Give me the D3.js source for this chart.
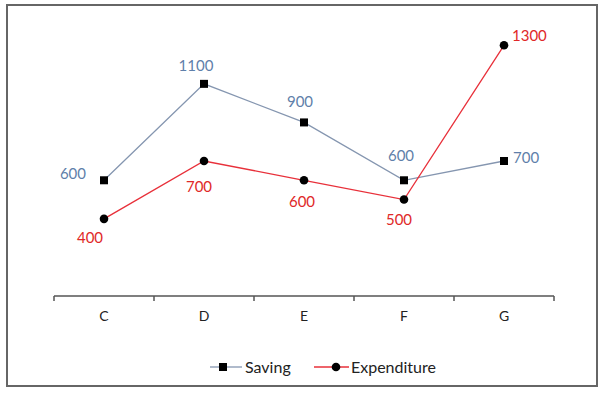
<!DOCTYPE html>
<html><head><meta charset="utf-8">
<script src="https://cdn.jsdelivr.net/npm/d3@7"></script>
<style>body{margin:0;background:#fff}svg{display:block}</style>
</head><body>
<script>
const categories = ["C","D","E","F","G"];
const saving = [600,1100,900,600,700];
const expenditure = [400,700,600,500,1300];
const seriesNames = ["Saving","Expenditure"];

const W=603,H=393;
const svg=d3.select("body").append("svg").attr("width",W).attr("height",H);
const font="Lato, 'Open Sans', sans-serif";

svg.append("rect").attr("x",7).attr("y",5).attr("width",590).attr("height",381)
  .attr("fill","#fff").attr("stroke","#666").attr("stroke-width",2);

const x=d3.scaleBand().domain(categories).range([54,554]);
const y=d3.scaleLinear().domain([0,1400]).range([296,26]);
const cx=c=>x(c)+x.bandwidth()/2;

// axis
const ax=svg.append("g").attr("transform","translate(0,296)");
ax.append("line").attr("x1",54).attr("x2",554).attr("stroke","#555").attr("stroke-width",1.5);
const tickPos=categories.map(c=>x(c)).concat([554]);
ax.selectAll("line.t").data(tickPos).enter().append("line").attr("class","t")
  .attr("x1",d=>d).attr("x2",d=>d).attr("y1",0).attr("y2",5).attr("stroke","#555").attr("stroke-width",1.5);
ax.selectAll("text").data(categories).enter().append("text")
  .attr("x",d=>cx(d)).attr("y",25).attr("text-anchor","middle")
  .attr("font-family",font).attr("font-size",14).attr("fill","#222").text(d=>d);

const line=d3.line().x((d,i)=>cx(categories[i])).y(d=>y(d));
const sColor="#8596b0", eColor="#e8303a", sLab="#5f7faa", eLab="#e02828";

svg.append("path").datum(saving).attr("d",line).attr("fill","none").attr("stroke",sColor).attr("stroke-width",1.3);
svg.append("path").datum(expenditure).attr("d",line).attr("fill","none").attr("stroke",eColor).attr("stroke-width",1.3);

svg.selectAll("rect.sm").data(saving).enter().append("rect").attr("class","sm")
  .attr("x",(d,i)=>cx(categories[i])-4).attr("y",d=>y(d)-4).attr("width",8).attr("height",8).attr("fill","#000");
svg.selectAll("circle.em").data(expenditure).enter().append("circle").attr("class","em")
  .attr("cx",(d,i)=>cx(categories[i])).attr("cy",d=>y(d)).attr("r",4.3).attr("fill","#000");

// label offsets [dx,dy,anchor]
const sOff=[[-18,-6,"end"],[-8,-18,"middle"],[-4,-20,"middle"],[-3,-24,"middle"],[9,-3,"start"]];
const eOff=[[-14,19,"middle"],[-5,26,"middle"],[-2,22,"middle"],[-5,20,"middle"],[8,-9,"start"]];
svg.selectAll("text.sl").data(saving).enter().append("text").attr("class","sl")
  .attr("x",(d,i)=>cx(categories[i])+sOff[i][0]).attr("y",(d,i)=>y(d)+sOff[i][1]+5)
  .attr("text-anchor",(d,i)=>sOff[i][2]).attr("font-family",font).attr("font-size",15).attr("fill",sLab).text(d=>d);
svg.selectAll("text.el").data(expenditure).enter().append("text").attr("class","el")
  .attr("x",(d,i)=>cx(categories[i])+eOff[i][0]).attr("y",(d,i)=>y(d)+eOff[i][1]+5)
  .attr("text-anchor",(d,i)=>eOff[i][2]).attr("font-family",font).attr("font-size",15).attr("fill",eLab).text(d=>d);

// legend
const lg=svg.append("g").attr("transform","translate(0,367)");
lg.append("line").attr("x1",210).attr("x2",242).attr("stroke",sColor).attr("stroke-width",1.3);
lg.append("rect").attr("x",219).attr("y",-4).attr("width",8).attr("height",8).attr("fill","#000");
lg.append("text").attr("x",245).attr("y",5.5).attr("font-family",font).attr("font-size",16).attr("fill","#222").text(seriesNames[0]);
lg.append("line").attr("x1",314).attr("x2",349).attr("stroke",eColor).attr("stroke-width",1.3);
lg.append("circle").attr("cx",336).attr("cy",0).attr("r",4.3).attr("fill","#000");
lg.append("text").attr("x",351).attr("y",5.5).attr("font-family",font).attr("font-size",16).attr("fill","#222").text(seriesNames[1]);
</script>
</body></html>
